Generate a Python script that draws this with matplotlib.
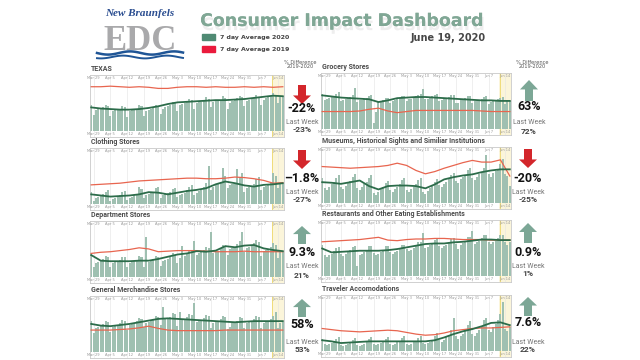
import matplotlib.pyplot as plt
import matplotlib.patheffects as pe
from matplotlib.patches import Polygon
import numpy as np

# day 0 = Mar 28, day 80 = Jun 16
days = np.arange(81)
line_days = np.arange(0, 81, 4)
tick_days = [1, 8, 15, 22, 29, 36, 43, 50, 57, 64, 71, 78]
tick_labels = ["Mar 29", "Apr 5", "Apr 12", "Apr 19", "Apr 26", "May 3",
               "May 10", "May 17", "May 24", "May 31", "Jun 7", "Jun 14"]

texas_bars = [46,
              28, 37, 39, 40, 42, 47, 45,
              26, 35, 37, 38, 40, 45, 43,
              24, 36, 37, 39, 40, 46, 44,
              27, 36, 38, 39, 42, 47, 45,
              31, 40, 42, 44, 46, 51, 49,
              36, 46, 48, 49, 52, 57, 55,
              40, 49, 51, 52, 55, 60, 57,
              42, 51, 53, 55, 56, 62, 59,
              40, 50, 54, 56, 58, 63, 60,
              44, 53, 55, 57, 58, 64, 61,
              47, 56, 58, 60, 62, 67, 64,
              50, 60, 62]
texas_2020 = [42, 40, 39, 38, 38, 39, 41, 44, 48, 51, 52, 53, 54, 55, 55, 56, 57, 59, 61, 63, 62]
texas_2019 = [79, 79, 80, 79, 78, 79, 78, 76, 76, 78, 79, 79, 78, 79, 78, 78, 79, 78, 79, 78, 79]

clothing_bars = [22,
                 6, 10, 12, 14, 17, 22, 24,
                 5, 9, 11, 13, 16, 21, 23,
                 7, 11, 13, 15, 18, 30, 26,
                 10, 15, 17, 19, 22, 28, 30,
                 11, 15, 17, 19, 22, 27, 29,
                 12, 16, 18, 20, 24, 30, 33,
                 15, 20, 23, 25, 30, 38, 68,
                 24, 30, 33, 35, 40, 65, 50,
                 28, 33, 36, 38, 62, 48, 55,
                 22, 28, 30, 32, 36, 45, 48,
                 25, 30, 32, 34, 38, 55, 50,
                 28, 35, 36]
clothing_2020 = [17, 15, 13, 14, 15, 17, 21, 20, 17, 20, 23, 25, 28, 35, 40, 37, 33, 31, 34, 35, 37]
clothing_2019 = [34, 35, 36, 37, 39, 41, 42, 43, 44, 45, 46, 46, 45, 45, 46, 48, 47, 45, 42, 37, 38]

dept_bars = [42,
             18, 25, 27, 29, 32, 38, 36,
             17, 24, 26, 28, 31, 36, 35,
             17, 24, 26, 28, 31, 37, 35,
             18, 72, 27, 29, 32, 38, 36,
             20, 28, 30, 32, 35, 42, 40,
             25, 34, 55, 38, 42, 48, 46,
             65, 40, 42, 44, 48, 54, 52,
             80, 43, 45, 47, 51, 57, 55,
             40, 50, 52, 54, 58, 64, 80,
             44, 52, 54, 56, 60, 66, 63,
             38, 46, 48, 50, 54, 60, 57,
             34, 44, 46]
dept_2020 = [39, 29, 28, 28, 28, 29, 29, 32, 36, 40, 42, 46, 45, 47, 55, 53, 56, 57, 51, 48, 46]
dept_2019 = [42, 44, 45, 47, 49, 52, 50, 45, 46, 47, 47, 47, 46, 45, 45, 45, 46, 45, 45, 45, 45]

genmerch_bars = [55,
                 34, 42, 44, 46, 49, 55, 53,
                 36, 44, 46, 48, 51, 57, 55,
                 40, 48, 50, 52, 55, 61, 59,
                 44, 52, 54, 56, 59, 65, 63,
                 48, 80, 58, 60, 63, 69, 67,
                 47, 72, 57, 59, 62, 68, 66,
                 87, 53, 55, 57, 60, 66, 64,
                 43, 51, 53, 55, 58, 64, 62,
                 41, 45, 51, 53, 56, 62, 60,
                 43, 51, 53, 55, 58, 64, 62,
                 43, 51, 53, 55, 58, 64, 72,
                 43, 52, 54]
genmerch_2020 = [50, 47, 46, 48, 50, 53, 56, 59, 60, 59, 58, 57, 56, 55, 54, 53, 54, 55, 55, 55, 55]
genmerch_2019 = [39, 39, 39, 40, 41, 43, 46, 42, 39, 38, 38, 38, 38, 38, 39, 39, 39, 39, 39, 39, 39]

grocery_bars = [62,
                51, 54, 55, 57, 59, 62, 66,
                49, 52, 53, 55, 57, 60, 74,
                48, 51, 52, 54, 56, 59, 60,
                10, 30, 48, 50, 52, 55, 56,
                47, 50, 51, 53, 55, 58, 59,
                50, 53, 54, 56, 58, 61, 62,
                71, 53, 54, 56, 58, 61, 62,
                49, 52, 53, 55, 57, 60, 61,
                47, 46, 51, 53, 55, 58, 59,
                46, 49, 50, 52, 54, 57, 58,
                45, 48, 49, 51, 53, 56, 57,
                44, 49, 50]
grocery_2020 = [60, 58, 56, 55, 54, 53, 48, 51, 55, 56, 57, 57, 56, 55, 54, 53, 52, 51, 51, 50, 50]
grocery_2019 = [31, 31, 31, 31, 32, 35, 37, 32, 29, 31, 33, 33, 33, 33, 33, 33, 33, 32, 31, 31, 31]

museum_bars = [45,
               27, 23, 29, 33, 37, 45, 49,
               29, 25, 31, 35, 39, 47, 51,
               27, 23, 29, 33, 37, 45, 49,
               18, 14, 20, 24, 28, 36, 40,
               23, 19, 25, 29, 33, 41, 45,
               23, 19, 25, 29, 33, 41, 45,
               20, 16, 22, 26, 30, 38, 42,
               32, 28, 34, 38, 42, 50, 54,
               40, 36, 42, 46, 50, 58, 62,
               45, 41, 47, 51, 55, 63, 85,
               51, 47, 53, 57, 61, 69, 78,
               52, 48, 30]
museum_2020 = [37, 36, 34, 37, 40, 30, 24, 30, 31, 31, 30, 26, 33, 42, 46, 49, 51, 55, 58, 60, 60]
museum_2019 = [65, 64, 63, 62, 63, 64, 65, 67, 71, 67, 58, 52, 56, 62, 67, 72, 76, 73, 73, 77, 48]

rest_bars = [55,
             38, 34, 37, 40, 44, 50, 51,
             40, 36, 39, 42, 46, 52, 53,
             17, 37, 40, 43, 47, 53, 54,
             41, 37, 40, 43, 47, 53, 54,
             43, 39, 42, 45, 49, 55, 56,
             48, 44, 47, 50, 54, 60, 61,
             77, 49, 52, 55, 59, 65, 66,
             54, 50, 53, 56, 60, 66, 67,
             57, 48, 56, 59, 63, 69, 70,
             80, 57, 60, 63, 67, 73, 74,
             61, 57, 60, 63, 67, 73, 74,
             60, 56, 60]
rest_2020 = [49, 42, 43, 44, 45, 45, 45, 46, 48, 51, 54, 57, 58, 58, 60, 61, 63, 65, 65, 64, 64]
rest_2019 = [61, 62, 63, 64, 65, 67, 69, 64, 63, 65, 66, 66, 67, 67, 66, 65, 65, 65, 64, 64, 64]

travel_bars = [22,
               12, 10, 12, 14, 17, 22, 25,
               10, 8, 10, 12, 15, 20, 23,
               11, 9, 11, 13, 16, 21, 24,
               12, 10, 12, 14, 17, 22, 25,
               13, 11, 13, 15, 18, 23, 26,
               13, 11, 13, 15, 18, 23, 26,
               14, 12, 14, 16, 19, 26, 32,
               20, 16, 20, 24, 28, 38, 58,
               26, 22, 26, 30, 36, 46, 53,
               30, 26, 32, 38, 44, 55, 59,
               38, 34, 42, 48, 55, 66, 87,
               40, 36, 42]
travel_2020 = [19, 17, 14, 15, 16, 17, 17, 17, 17, 17, 17, 17, 19, 24, 30, 35, 39, 44, 50, 51, 46]
travel_2019 = [40, 38, 36, 35, 34, 35, 36, 37, 36, 33, 30, 28, 29, 32, 36, 38, 40, 41, 41, 42, 43]

titles = ["TEXAS", "Clothing Stores", "Department Stores", "General Merchandise Stores",
          "Grocery Stores", "Museums, Historical Sights and Similiar Institutions",
          "Restaurants and Other Eating Establishments", "Traveler Accomodations"]
pct_change = ["-22%", "\u20131.8%", "9.3%", "58%", "63%", "-20%", "0.9%", "7.6%"]
last_week = ["-23%", "-27%", "21%", "53%", "72%", "-25%", "1%", "22%"]
direction = ["down", "down", "up", "up", "up", "down", "up", "up"]

series = [(texas_bars, texas_2020, texas_2019),
          (clothing_bars, clothing_2020, clothing_2019),
          (dept_bars, dept_2020, dept_2019),
          (genmerch_bars, genmerch_2020, genmerch_2019),
          (grocery_bars, grocery_2020, grocery_2019),
          (museum_bars, museum_2020, museum_2019),
          (rest_bars, rest_2020, rest_2019),
          (travel_bars, travel_2020, travel_2019)]

GREEN = "#2c6c4a"
RED = "#e8654f"
BAR = "#9fc0b1"
W, H = 640, 360

fig = plt.figure(figsize=(6.4, 3.6), dpi=100)
fig.patch.set_facecolor("white")

# panel boxes in pixels: left, top, width, height
boxes = [(90, 75, 194, 62), (90, 148, 194, 62), (90, 221, 194, 62), (90, 296, 194, 62),
         (321, 73, 190, 62), (321, 147, 190, 62), (321, 220, 190, 62), (321, 295, 190, 62)]
# annotation layout: arrow center x, arrow top, arrow bottom, pct y, last-week-label y, last-week y
notes = [(302, 85, 104, 109, 122, 130), (302, 150, 169, 178, 193, 200),
         (302, 226, 244, 253, 267, 275), (302, 299, 317, 324, 342, 350),
         (529, 80, 101, 107, 123, 131), (528, 149, 168, 178, 193, 200),
         (528, 223, 243, 252, 267, 274), (528, 297, 316, 323, 342, 350)]

for (l, t, w, h), title, (bars, a20, a19) in zip(boxes, titles, series):
    ax = fig.add_axes([l / W, 1 - (t + h) / H, w / W, h / H])
    ax.axvspan(75.5, 80.5, color="#fbf5da", zorder=0, lw=0)
    for x in (75.6, 80.4):
        ax.axvline(x, color="#efdc7a", lw=0.7, zorder=1)
    for d in tick_days:
        ax.axvline(d, color="#e4e4e4", lw=0.4, zorder=0)
    ax.bar(days, bars, width=0.85, color=BAR, zorder=2)
    ax.plot(line_days, a19, color=RED, lw=0.9, zorder=3)
    ax.plot(line_days, a20, color=GREEN, lw=1.3, zorder=4)
    for d, lab in zip(tick_days, tick_labels):
        ax.text(d, 94, lab, fontsize=2.6, color="#999999", ha="center", va="center")
        ax.text(d, -6, lab, fontsize=2.6, color="#999999", ha="center", va="center")
    ax.set_xlim(-0.5, 80.5)
    ax.set_ylim(-11, 100)
    ax.set_xticks([])
    ax.set_yticks([])
    for s in ax.spines.values():
        s.set_color("#c9c9c9")
        s.set_linewidth(0.6)
    fig.text((l + 1) / W, 1 - (t - 6) / H, title, fontsize=5, fontweight="bold",
             family="Roboto", color="#4d4d4d", ha="left", va="center")

# overlay in pixel coordinates for header, logo and annotations
ov = fig.add_axes([0, 0, 1, 1])
ov.set_xlim(0, W)
ov.set_ylim(H, 0)
ov.axis("off")

ov.text(342, 21, "Consumer Impact Dashboard", fontsize=12.5, fontweight="bold",
        color="#80a795", ha="center", va="center",
        path_effects=[pe.withSimplePatchShadow(offset=(1, -3), shadow_rgbFace="#aaaaaa", alpha=0.2),
                      pe.Normal()])
ov.text(486, 38, "June 19, 2020", fontsize=7, fontweight="bold", color="#474747",
        ha="right", va="center")
ov.add_patch(plt.Rectangle((202, 34), 13, 6, color="#4f8a73"))
ov.add_patch(plt.Rectangle((202, 46), 13, 6, color="#ea1a3c"))
ov.text(220, 37, "7 day Average 2020", fontsize=4.5, fontweight="bold", color="#444444", va="center")
ov.text(220, 49, "7 day Average 2019", fontsize=4.5, fontweight="bold", color="#444444", va="center")

# logo
ov.text(140, 13, "New Braunfels", fontsize=8, family="Liberation Serif", style="italic",
        fontweight="bold", color="#2a4d90", ha="center", va="center")
ov.text(140, 50, "EDC", fontsize=25, family="Liberation Serif", fontweight="bold",
        color="#a9a9ab", ha="center", va="baseline")
wx = np.linspace(97, 183, 60)
ov.plot(wx, 53 + 1.6 * np.sin((wx - 97) / 7), color="#1f5596", lw=1.8)
ov.plot(wx, 57 + 1.4 * np.sin((wx - 97) / 7 + 1), color="#1f5596", lw=1.4)

# "% Difference" headers
for cx in (300, 532):
    ov.text(cx, 62, "% Difference", fontsize=3.6, color="#555555", ha="center", va="center")
    ov.text(cx, 67, "2019-2020", fontsize=3.6, color="#555555", ha="center", va="center")


def arrow(cx, y0, y1, up, color):
    hw, sw = 9, 4
    hh = (y1 - y0) * 0.45
    if up:
        pts = [(cx, y0), (cx + hw, y0 + hh), (cx + sw, y0 + hh), (cx + sw, y1),
               (cx - sw, y1), (cx - sw, y0 + hh), (cx - hw, y0 + hh)]
    else:
        pts = [(cx, y1), (cx + hw, y1 - hh), (cx + sw, y1 - hh), (cx + sw, y0),
               (cx - sw, y0), (cx - sw, y1 - hh), (cx - hw, y1 - hh)]
    ov.add_patch(Polygon(pts, closed=True, color=color, lw=0))


for (cx, y0, y1, py, ly, vy), pct, lw, dr in zip(notes, pct_change, last_week, direction):
    arrow(cx, y0, y1, dr == "up", "#7ca796" if dr == "up" else "#d3262b")
    ov.text(cx, py, pct, fontsize=9, fontweight="bold", family="Roboto", color="#111111",
            ha="center", va="center")
    ov.text(cx, ly, "Last Week", fontsize=5, family="Roboto", color="#777777",
            ha="center", va="center")
    ov.text(cx, vy, lw, fontsize=6, fontweight="bold", family="Roboto", color="#444444",
            ha="center", va="center")

fig.savefig("out.png", dpi=100, facecolor="white")
